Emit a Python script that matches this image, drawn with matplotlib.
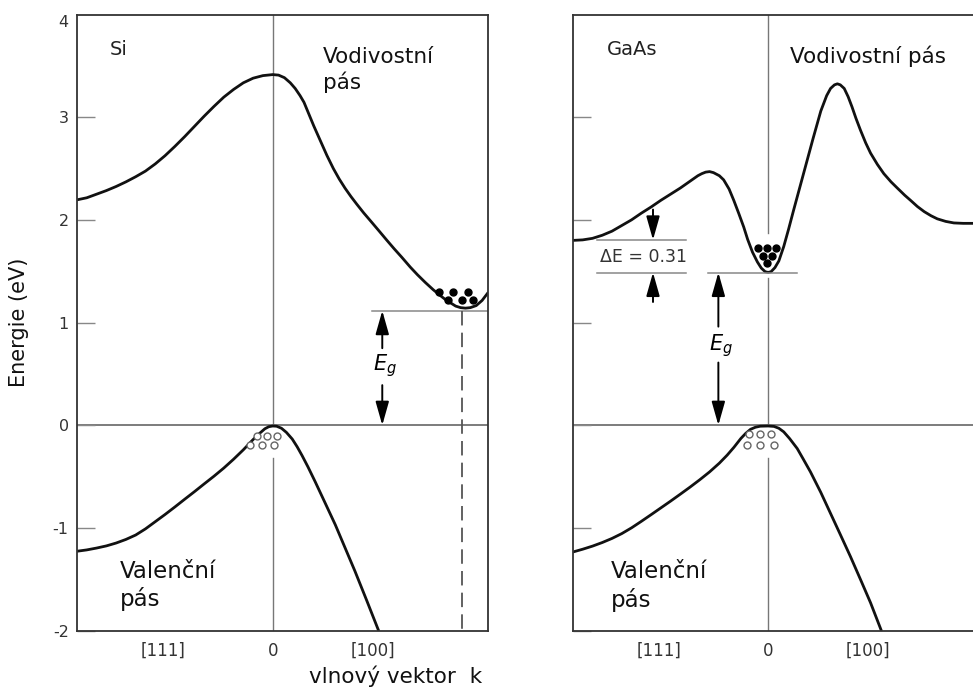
import matplotlib
matplotlib.use("Agg")
import matplotlib.pyplot as plt

plt.rcParams['font.family'] = ['DejaVu Sans']
plt.rcParams['axes.unicode_minus'] = False

# --- Si band structure ---
si_cb_k = [-1.0, -0.95, -0.90, -0.85, -0.80, -0.75, -0.70, -0.65, -0.60, -0.55, -0.50, -0.45,
           -0.40, -0.35, -0.30, -0.25, -0.20, -0.15, -0.10, -0.05, 0.0, 0.03, 0.06, 0.09,
           0.115, 0.14, 0.16, 0.185, 0.21, 0.245, 0.277, 0.31, 0.34, 0.37, 0.40, 0.43, 0.465,
           0.50, 0.54, 0.584, 0.62, 0.66, 0.703, 0.74, 0.78, 0.82, 0.855, 0.885, 0.91, 0.935,
           0.96, 0.985, 1.01, 1.04, 1.07, 1.10]
si_cb_e = [2.195, 2.215, 2.25, 2.285, 2.325, 2.37, 2.42, 2.475, 2.545, 2.625, 2.715, 2.81,
           2.91, 3.01, 3.105, 3.195, 3.27, 3.335, 3.38, 3.405, 3.415, 3.41, 3.385, 3.335,
           3.28, 3.21, 3.145, 3.03, 2.915, 2.765, 2.628, 2.50, 2.398, 2.308, 2.227, 2.152,
           2.068, 1.99, 1.90, 1.80, 1.72, 1.635, 1.54, 1.465, 1.39, 1.32, 1.265, 1.22, 1.19,
           1.16, 1.145, 1.14, 1.145, 1.165, 1.215, 1.29]

si_vb_k = [-1.0, -0.95, -0.90, -0.85, -0.80, -0.75, -0.70, -0.65, -0.60, -0.55, -0.50, -0.45,
           -0.40, -0.35, -0.30, -0.25, -0.20, -0.15, -0.10, -0.07, -0.04, -0.02, 0.0, 0.02,
           0.045, 0.07, 0.10, 0.125, 0.15, 0.18, 0.217, 0.26, 0.32, 0.37, 0.42, 0.48, 0.541]
si_vb_e = [-1.228, -1.215, -1.197, -1.176, -1.148, -1.113, -1.07, -1.01, -0.94, -0.87, -0.797,
           -0.722, -0.648, -0.572, -0.497, -0.418, -0.332, -0.24, -0.14, -0.085, -0.035, -0.015,
           -0.008, -0.01, -0.03, -0.07, -0.135, -0.21, -0.295, -0.405, -0.55, -0.725, -0.97,
           -1.195, -1.42, -1.705, -2.0]

si_el_k = [0.85, 0.92, 1.0, 0.895, 0.965, 1.025]
si_el_e = [1.30, 1.30, 1.30, 1.22, 1.22, 1.22]
si_hole_k = [-0.081, -0.030, 0.021, -0.115, -0.055, 0.008]
si_hole_e = [-0.104, -0.104, -0.104, -0.19, -0.19, -0.19]

si_eg = 1.115        # bottom of the conduction band
si_cb_min_k = 0.965  # position of the indirect minimum

# --- GaAs band structure ---
gaas_cb_k = [-1.0, -0.95, -0.90, -0.85, -0.80, -0.75, -0.70, -0.65, -0.60, -0.55, -0.50, -0.45,
             -0.42, -0.39, -0.36, -0.34, -0.32, -0.30, -0.28, -0.25, -0.228, -0.20, -0.176,
             -0.15, -0.125, -0.105, -0.08, -0.055, -0.035, -0.015, 0.0, 0.015, 0.035, 0.055,
             0.08, 0.105, 0.13, 0.18, 0.23, 0.27, 0.30, 0.32, 0.34, 0.355, 0.37, 0.39, 0.41,
             0.43, 0.45, 0.473, 0.50, 0.525, 0.56, 0.593, 0.63, 0.662, 0.70, 0.73, 0.765, 0.80,
             0.835, 0.867, 0.91, 0.952, 1.0, 1.053]
gaas_cb_e = [1.80, 1.805, 1.82, 1.85, 1.89, 1.945, 2.00, 2.065, 2.125, 2.19, 2.25, 2.31,
             2.35, 2.39, 2.43, 2.45, 2.465, 2.47, 2.46, 2.43, 2.39, 2.30, 2.19,
             2.06, 1.93, 1.81, 1.685, 1.59, 1.53, 1.495, 1.488, 1.495, 1.535, 1.60,
             1.74, 1.91, 2.09, 2.44, 2.79, 3.06, 3.21, 3.28, 3.315, 3.325, 3.315, 3.28, 3.20,
             3.10, 2.99, 2.875, 2.75, 2.65, 2.54, 2.45, 2.37, 2.31, 2.24, 2.19, 2.13, 2.08,
             2.04, 2.01, 1.985, 1.97, 1.966, 1.966]

gaas_vb_k = [-1.0, -0.95, -0.90, -0.85, -0.80, -0.75, -0.70, -0.65, -0.60, -0.55, -0.50, -0.45,
             -0.40, -0.35, -0.30, -0.25, -0.21, -0.175, -0.14, -0.115, -0.09, -0.065, -0.04,
             0.0, 0.03, 0.055, 0.08, 0.11, 0.149, 0.18, 0.217, 0.27, 0.32, 0.37, 0.422, 0.475,
             0.525, 0.58]
gaas_vb_e = [-1.235, -1.208, -1.178, -1.143, -1.103, -1.056, -1.0, -0.937, -0.872, -0.806,
             -0.740, -0.672, -0.603, -0.531, -0.455, -0.37, -0.292, -0.215, -0.13, -0.08, -0.04,
             -0.02, -0.01, -0.008, -0.012, -0.03, -0.065, -0.13, -0.227, -0.33, -0.455, -0.655,
             -0.86, -1.065, -1.28, -1.51, -1.73, -2.0]

gaas_el_k = [-0.05, -0.004, 0.04, -0.024, 0.022, -0.004]
gaas_el_e = [1.73, 1.73, 1.73, 1.65, 1.65, 1.58]
gaas_hole_k = [-0.097, -0.041, 0.015, -0.108, -0.041, 0.031]
gaas_hole_e = [-0.09, -0.09, -0.09, -0.195, -0.195, -0.195]

gaas_eg = 1.487      # direct gap (as drawn)
gaas_sat = 1.805     # satellite valley, dE = 0.31 above

e_ticks = [-2, -1, 0, 1, 2, 3]
k_tick_pos = [-0.56, 0, 0.51]
k_tick_labels = ['[111]', '0', '[100]']

band_kw = dict(color='#111111', lw=2.0, solid_joinstyle='round', solid_capstyle='round')
guide_kw = dict(color='#888888', lw=1.1)
arrow_kw = dict(arrowstyle='-|>,head_length=0.6,head_width=0.17', mutation_scale=24,
                color='black', lw=1.4, shrinkA=0, shrinkB=0)

fig = plt.figure(figsize=(9.73, 6.89), dpi=100)
ax1 = fig.add_axes([0.0791, 0.0849, 0.4224, 0.894])
ax2 = fig.add_axes([0.5889, 0.0849, 0.4111, 0.894])


def setup(ax, xmax, show_labels):
    ax.set_xlim(-1, xmax)
    ax.set_ylim(-2, 4)
    ax.set_yticks(e_ticks)
    ax.tick_params(axis='y', direction='in', length=13, width=1, color='#888888',
                   labelsize=11.5, pad=6, labelcolor='#333333', labelleft=show_labels)
    ax.set_xticks(k_tick_pos)
    ax.set_xticklabels(k_tick_labels)
    ax.tick_params(axis='x', length=0, labelsize=12, pad=8, labelcolor='#333333')
    for s in ax.spines.values():
        s.set_color('#333333')
        s.set_linewidth(1.3)
    ax.axhline(0, color='#666666', lw=1.2, zorder=1)


setup(ax1, 1.10, True)
setup(ax2, 1.05, False)
ax2.spines['right'].set_visible(False)

# ---- Si panel ----
ax1.plot([0, 0], [4, 0], color='#777777', lw=1, zorder=1)
ax1.plot([0, 0], [-0.32, -2], color='#777777', lw=1, zorder=1)
ax1.plot(si_cb_k, si_cb_e, **band_kw)
ax1.plot(si_vb_k, si_vb_e, **band_kw)
ax1.plot(si_el_k, si_el_e, 'o', ms=5, color='black', mec='black')
ax1.plot(si_hole_k, si_hole_e, 'o', ms=5, mfc='white', mec='#666666', mew=1)

ax1.plot([0.505, 1.10], [si_eg, si_eg], **guide_kw)
ax1.plot([si_cb_min_k, si_cb_min_k], [si_eg, -2], color='#555555', lw=1.3,
         linestyle=(0, (8, 4)))
ax1.annotate('', xy=(0.56, si_eg), xytext=(0.56, 0.75), arrowprops=arrow_kw)
ax1.annotate('', xy=(0.56, 0), xytext=(0.56, 0.39), arrowprops=arrow_kw)
ax1.text(0.575, 0.585, r'$E_g$', ha='center', va='center', fontsize=15)

ax1.text(-0.83, 3.66, 'Si', ha='left', va='center', fontsize=14, color='#222222')
ax1.text(0.255, 3.53, 'Vodivostní', ha='left', va='baseline', fontsize=15.5, color='#111111')
ax1.text(0.255, 3.27, 'pás', ha='left', va='baseline', fontsize=15.5, color='#111111')
ax1.text(-0.78, -1.49, 'Valenční', ha='left', va='baseline', fontsize=16.5, color='#111111')
ax1.text(-0.78, -1.76, 'pás', ha='left', va='baseline', fontsize=16.5, color='#111111')
ax1.text(-0.022, 3.92, '4', transform=ax1.get_yaxis_transform(), ha='right', va='center',
         fontsize=11.5, color='#333333')

ax1.set_xlabel('vlnový vektor  k', fontsize=15.5, ha='right', va='baseline', color='#111111')
ax1.xaxis.set_label_coords(0.985, -0.086)
fig.text(19 / 973, 1 - 322 / 689, 'Energie (eV)', rotation=90, ha='center', va='center',
         fontsize=15, color='#111111')

# ---- GaAs panel ----
ax2.plot([0, 0], [4, 1.87], color='#777777', lw=1, zorder=1)
ax2.plot([0, 0], [1.43, 0], color='#777777', lw=1, zorder=1)
ax2.plot([0, 0], [-0.32, -2], color='#777777', lw=1, zorder=1)
ax2.plot(gaas_cb_k, gaas_cb_e, **band_kw)
ax2.plot(gaas_vb_k, gaas_vb_e, **band_kw)
ax2.plot(gaas_el_k, gaas_el_e, 'o', ms=5, color='black', mec='black')
ax2.plot(gaas_hole_k, gaas_hole_e, 'o', ms=5, mfc='white', mec='#666666', mew=1)

ax2.plot([-0.877, -0.42], [gaas_sat, gaas_sat], **guide_kw)
ax2.plot([-0.877, -0.42], [gaas_eg, gaas_eg], **guide_kw)
ax2.plot([-0.31, 0.15], [gaas_eg, gaas_eg], **guide_kw)
ax2.annotate('', xy=(-0.59, gaas_sat), xytext=(-0.59, 2.10), arrowprops=arrow_kw)
ax2.annotate('', xy=(-0.59, gaas_eg), xytext=(-0.59, 1.20), arrowprops=arrow_kw)
ax2.text(-0.64, 1.635, 'ΔE = 0.31', ha='center', va='center', fontsize=12.5, color='#333333')

ax2.annotate('', xy=(-0.255, gaas_eg), xytext=(-0.255, 0.96), arrowprops=arrow_kw)
ax2.annotate('', xy=(-0.255, 0), xytext=(-0.255, 0.61), arrowprops=arrow_kw)
ax2.text(-0.24, 0.78, r'$E_g$', ha='center', va='center', fontsize=15)

ax2.text(-0.826, 3.66, 'GaAs', ha='left', va='center', fontsize=14, color='#222222')
ax2.text(0.113, 3.53, 'Vodivostní pás', ha='left', va='baseline', fontsize=15.5, color='#111111')
ax2.text(-0.805, -1.49, 'Valenční', ha='left', va='baseline', fontsize=16.5, color='#111111')
ax2.text(-0.805, -1.77, 'pás', ha='left', va='baseline', fontsize=16.5, color='#111111')

fig.savefig('out.png', dpi=100)
